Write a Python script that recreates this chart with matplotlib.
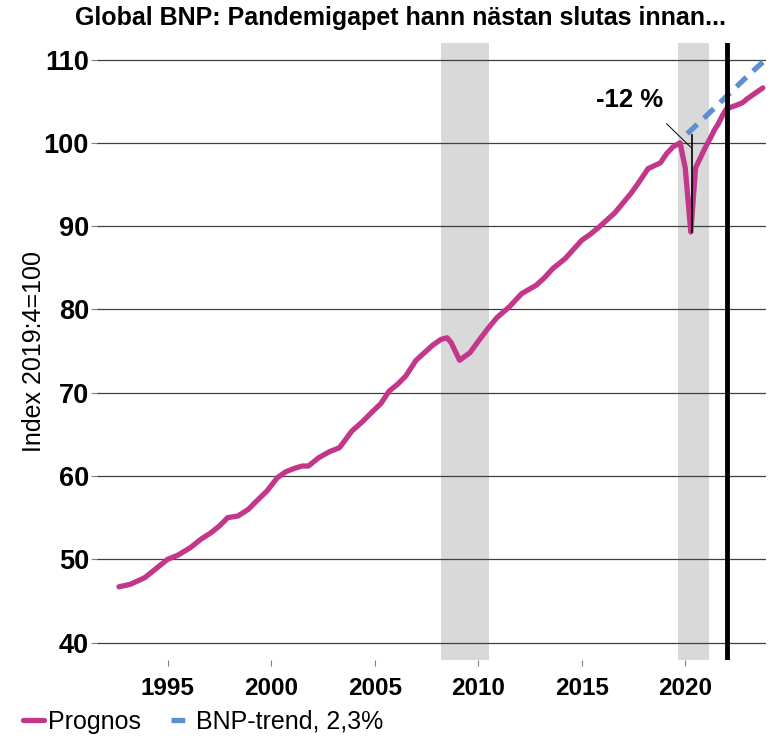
import matplotlib.pyplot as plt

plt.rcParams['font.family'] = ['Liberation Sans', 'DejaVu Sans']

# Global BNP, index 2019:4 = 100
years = [1992.65, 1993.2, 1993.9, 1994.5, 1995.0, 1995.5, 1996.1, 1996.6, 1997.1, 1997.5,
         1997.9, 1998.4, 1998.9, 1999.3, 1999.8, 2000.3, 2000.7, 2001.1, 2001.5, 2001.8,
         2002.3, 2002.8, 2003.3, 2003.9, 2004.4, 2004.8, 2005.3, 2005.7, 2006.1, 2006.5,
         2007.0, 2007.4, 2007.8, 2008.2, 2008.5, 2008.7, 2009.1, 2009.6, 2010.1, 2010.5,
         2010.9, 2011.5, 2012.1, 2012.8, 2013.2, 2013.6, 2014.2, 2014.6, 2015.0, 2015.4,
         2015.8, 2016.2, 2016.6, 2017.0, 2017.4, 2017.8, 2018.2, 2018.8, 2019.1, 2019.4,
         2019.75, 2020.0, 2020.27, 2020.5, 2020.75, 2020.96, 2021.2, 2021.4, 2021.6, 2021.8,
         2022.0, 2022.45, 2022.75, 2023.0, 2023.4, 2023.75]
gdp = [46.7, 47.0, 47.8, 49.0, 50.0, 50.5, 51.4, 52.4, 53.2, 54.0,
       55.0, 55.2, 56.0, 57.0, 58.2, 59.8, 60.5, 60.9, 61.2, 61.2,
       62.2, 62.9, 63.4, 65.4, 66.5, 67.5, 68.7, 70.2, 71.0, 72.0,
       73.9, 74.8, 75.7, 76.4, 76.6, 76.0, 73.9, 74.8, 76.5, 77.8,
       79.0, 80.3, 81.9, 82.9, 83.8, 84.9, 86.1, 87.2, 88.3, 89.0,
       89.8, 90.7, 91.6, 92.8, 94.0, 95.4, 96.9, 97.6, 98.7, 99.5,
       100.0, 97.0, 89.3, 97.0, 98.3, 99.4, 100.5, 101.5, 102.3, 103.3,
       104.1, 104.5, 104.8, 105.3, 106.0, 106.6]

trend_years = [2020.1, 2021.0, 2022.0, 2023.0, 2023.75]
trend = [101.1, 103.2, 105.6, 108.0, 109.7]

recessions = [(2008.2, 2010.5), (2019.65, 2021.15)]
forecast_start = 2022.0

fig = plt.figure(figsize=(7.84, 7.40), dpi=100)
ax = fig.add_axes([0.124, 0.108, 0.853, 0.834])

for a, b in recessions:
    ax.axvspan(a, b, color='#d9d9d9', lw=0, zorder=0)

ax.plot(years, gdp, color='#c2378a', lw=3.8, zorder=3, label='Prognos',
        solid_joinstyle='round', solid_capstyle='round')
ax.plot(trend_years, trend, color='#5b8fd0', lw=3.8, ls=(0, (2.6, 1.7)), zorder=3,
        label='BNP-trend, 2,3%')
ax.axvline(forecast_start, color='black', lw=3.5, zorder=4)

# -12 % annotation
ax.plot([2020.32, 2020.32], [89.3, 100.9], color='black', lw=1.2, zorder=4)
ax.plot([2019.1, 2020.3], [102.3, 99.4], color='black', lw=0.7, zorder=4)
ax.text(2017.3, 105.2, '-12 %', fontsize=18.5, fontweight='bold', ha='center', va='center')

ax.set_xlim(1991.6, 2023.9)
ax.set_ylim(37.9, 112)
ax.set_yticks(range(40, 111, 10))
ax.set_xticks(range(1995, 2021, 5))
ax.tick_params(axis='y', labelsize=19.5, length=4, color='#808080', pad=2)
ax.tick_params(axis='x', labelsize=17.5, length=4, color='#808080', pad=8)
for lab in ax.get_xticklabels() + ax.get_yticklabels():
    lab.set_fontweight('bold')
ax.grid(axis='y', color='#404040', lw=0.9)
ax.set_axisbelow(True)
for s in ax.spines.values():
    s.set_visible(False)

ax.set_ylabel('Index 2019:4=100', fontsize=18)
ax.yaxis.set_label_coords(-0.077, 0.5)
fig.text(0.511, 0.976, 'Global BNP: Pandemigapet hann nästan slutas innan...', fontsize=18,
         fontweight='bold', ha='center', va='center')

fig.legend(loc='lower left', bbox_to_anchor=(0.0, -0.022), ncol=2, frameon=False,
           fontsize=18, handlelength=0.85, handletextpad=0.15, columnspacing=1.2)

fig.savefig('out.png', dpi=100)
